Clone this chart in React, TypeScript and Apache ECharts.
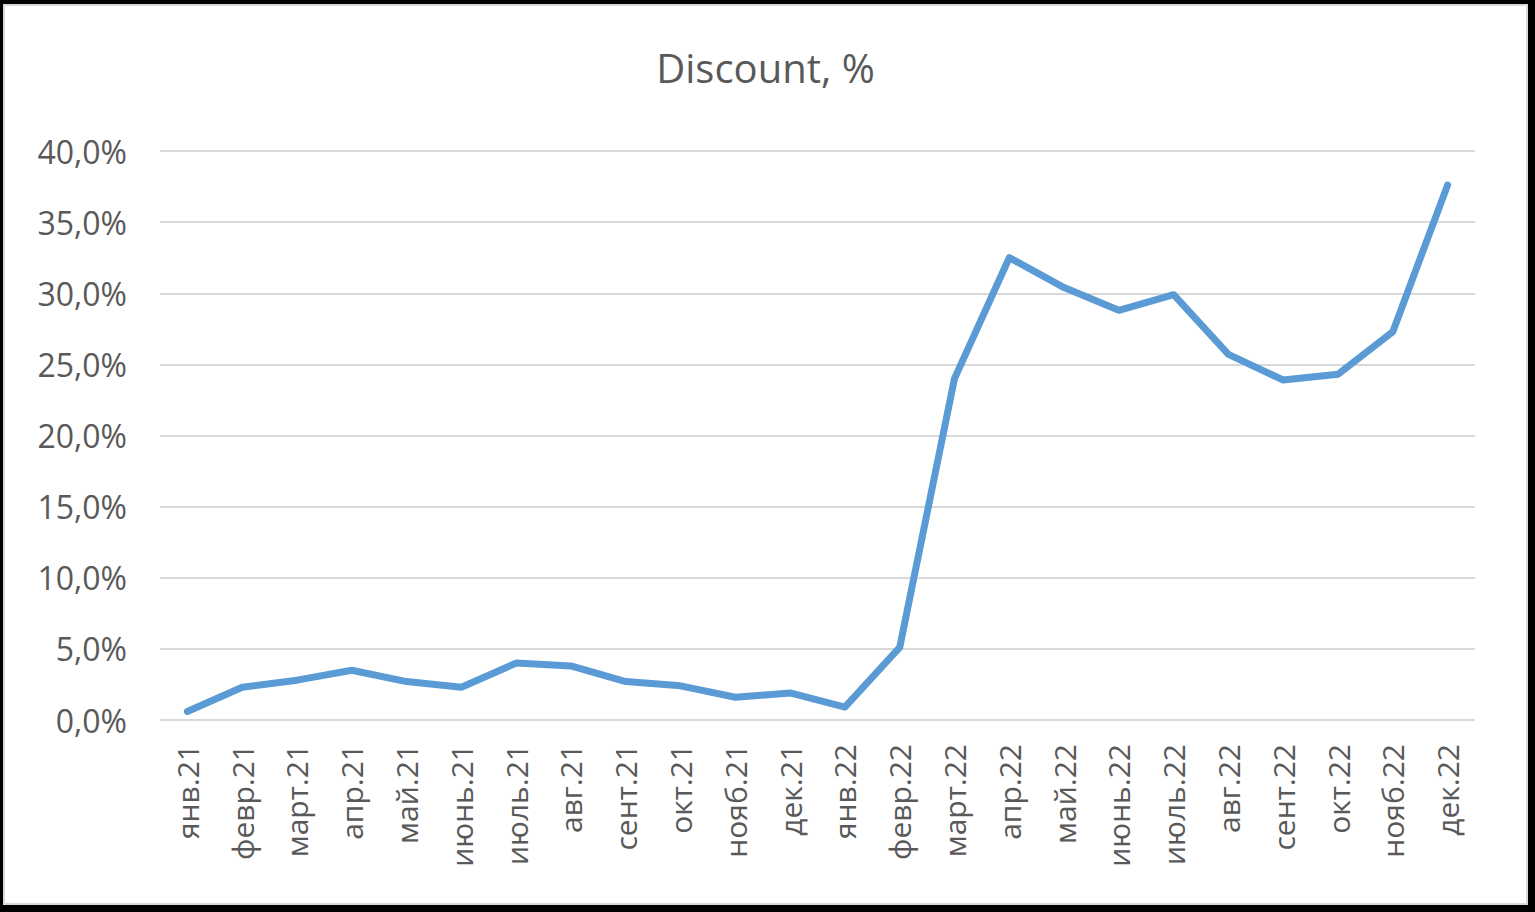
import React, { useEffect, useRef } from "react";
import * as echarts from "echarts";

const categories = [
  "янв.21", "февр.21", "март.21", "апр.21", "май.21", "июнь.21", "июль.21", "авг.21",
  "сент.21", "окт.21", "нояб.21", "дек.21", "янв.22", "февр.22", "март.22", "апр.22",
  "май.22", "июнь.22", "июль.22", "авг.22", "сент.22", "окт.22", "нояб.22", "дек.22",
];
const discount = [
  0.6, 2.3, 2.8, 3.5, 2.7, 2.3, 4.0, 3.8,
  2.7, 2.4, 1.6, 1.9, 0.9, 5.1, 24.0, 32.5,
  30.4, 28.8, 29.9, 25.7, 23.9, 24.3, 27.3, 37.6,
];
const title = "Discount, %";

export default function App() {
  const ref = useRef<HTMLDivElement>(null);
  useEffect(() => {
    document.body.style.margin = "0";
    const chart = echarts.init(ref.current!, null, { renderer: "svg" });
    const font = "'Open Sans', 'Liberation Sans', sans-serif";
    chart.setOption({
      animation: false,
      backgroundColor: "#ffffff",
      title: {
        text: title,
        left: "center",
        top: 36,
        textStyle: { color: "#595959", fontSize: 40, fontWeight: "normal", fontFamily: font },
      },
      grid: { left: 155, top: 145, width: 1315, height: 569 },
      xAxis: {
        type: "category",
        data: categories,
        boundaryGap: true,
        axisLine: { show: false },
        axisTick: { show: false },
        axisLabel: {
          rotate: 90,
          margin: 24,
          color: "#595959",
          fontSize: 30,
          fontFamily: font,
          interval: 0,
        },
      },
      yAxis: {
        type: "value",
        min: 0,
        max: 40,
        interval: 5,
        axisLine: { show: false },
        axisTick: { show: false },
        splitLine: { lineStyle: { color: "#d9d9d9", width: 2 } },
        axisLabel: {
          margin: 33,
          color: "#595959",
          fontSize: 32,
          fontFamily: font,
          formatter: (v: number) => v.toFixed(1).replace(".", ",") + "%",
        },
      },
      series: [
        {
          type: "line",
          data: discount,
          symbol: "none",
          lineStyle: { color: "#5b9bd5", width: 7, cap: "round", join: "round" },
        },
      ],
    });
    return () => chart.dispose();
  }, []);
  return (
    <div style={{ width: 1535, height: 912, background: "#000", position: "relative" }}>
      <div
        style={{
          position: "absolute",
          left: 3,
          top: 4,
          width: 1525,
          height: 901,
          background: "#fff",
          boxSizing: "border-box",
          border: "2px solid #d9d9d9",
        }}
      >
        <div ref={ref} style={{ width: 1521, height: 897 }} />
      </div>
    </div>
  );
}
